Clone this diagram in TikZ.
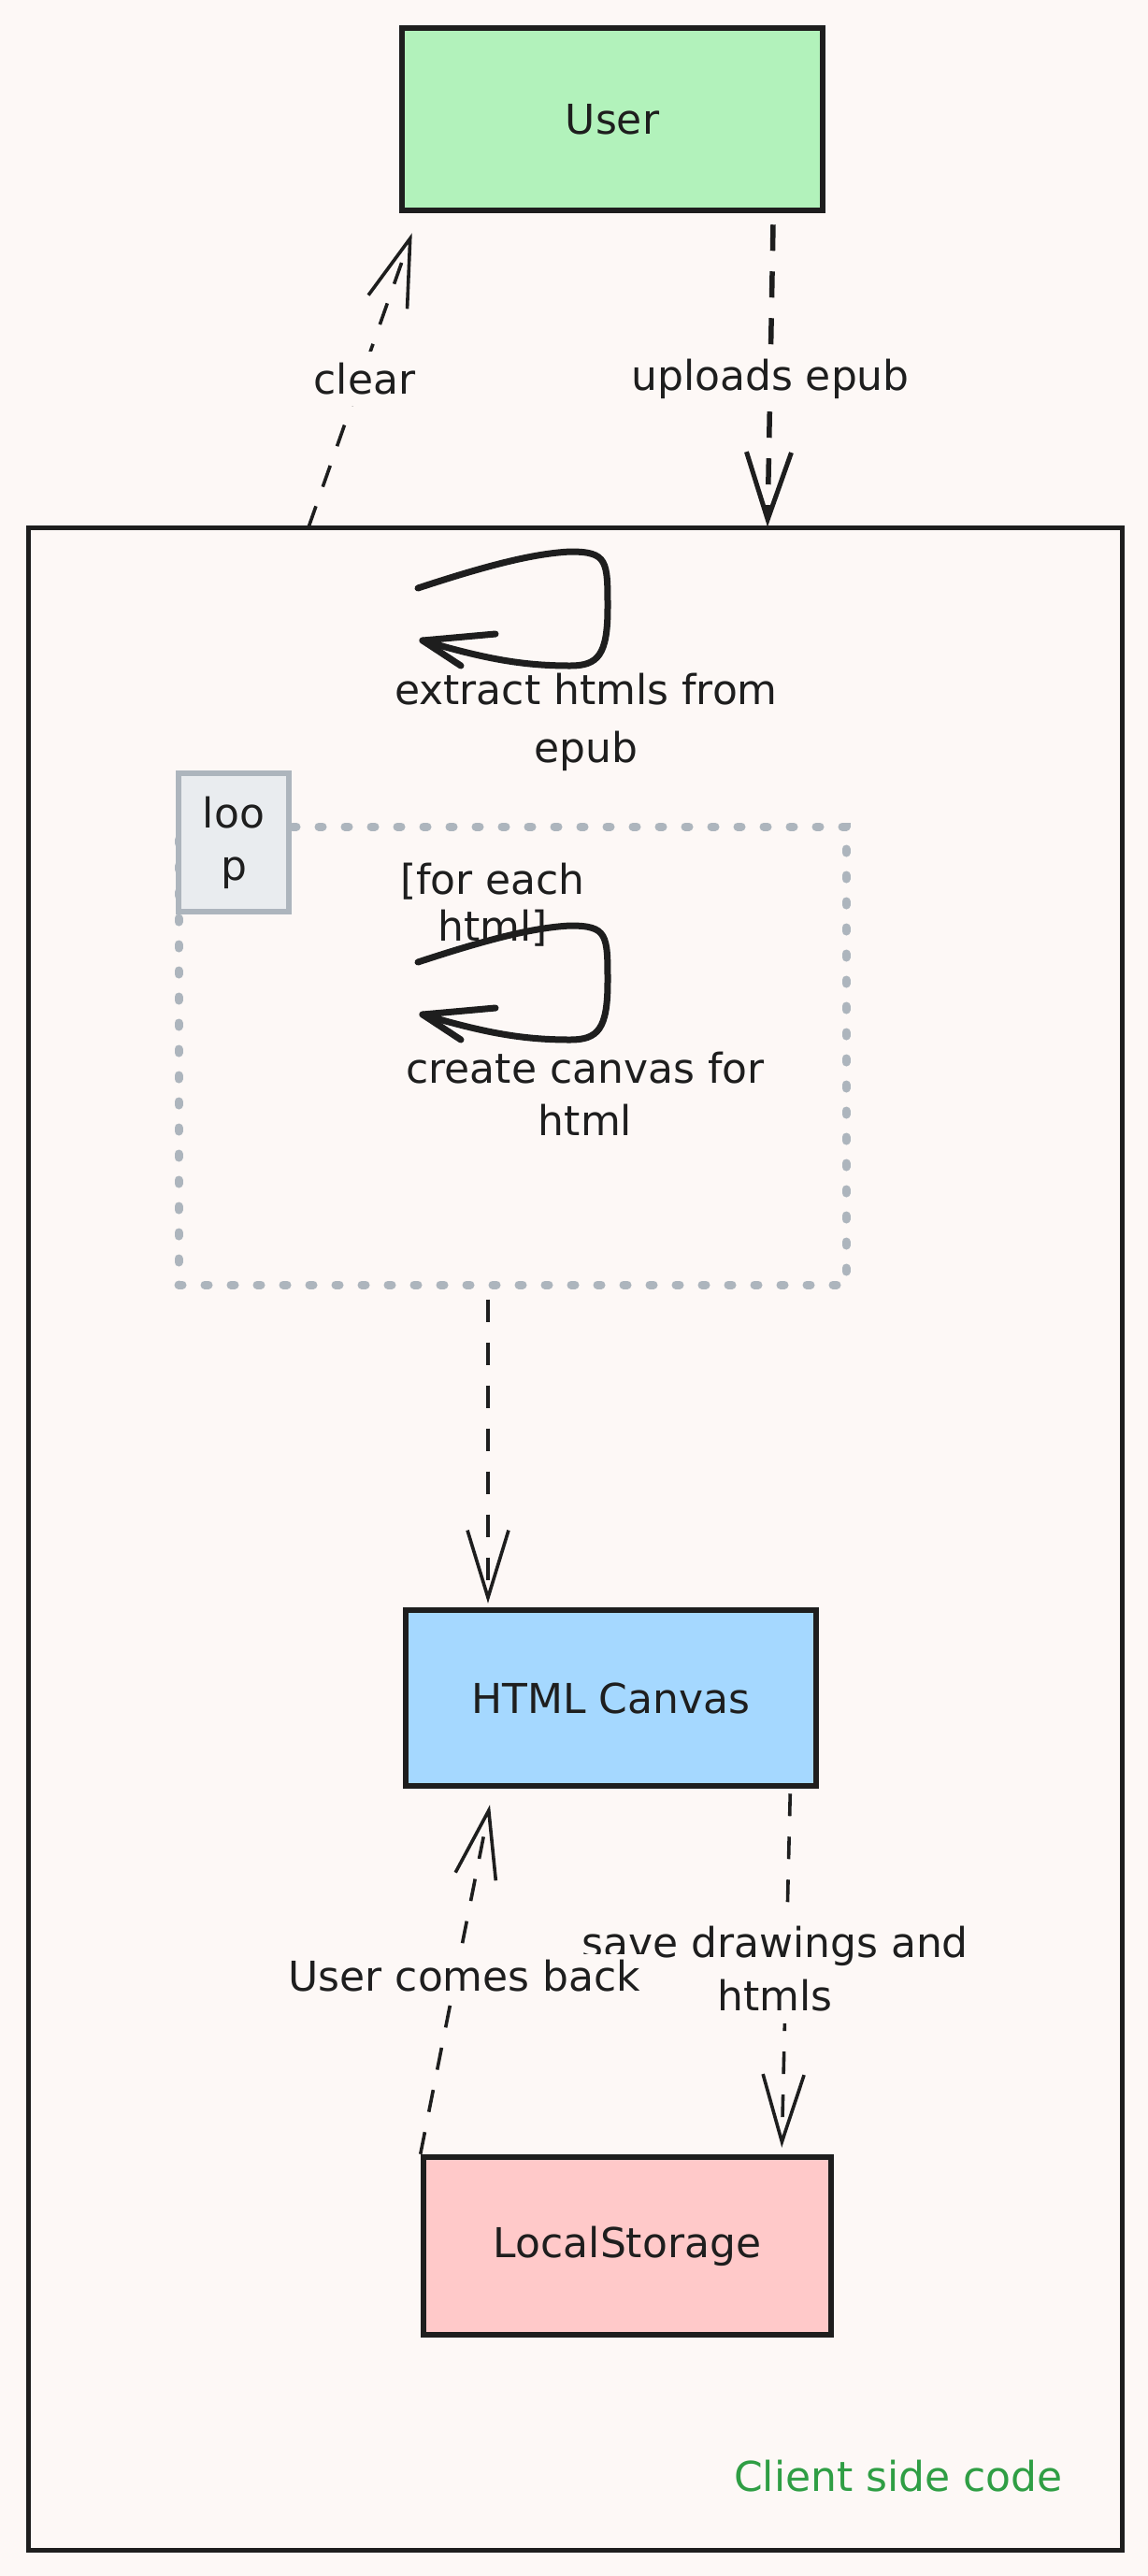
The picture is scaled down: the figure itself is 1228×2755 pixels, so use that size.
\documentclass[tikz,border=0pt]{standalone}
\usepackage{fontspec}
\setmainfont{DejaVu Sans}
\usetikzlibrary{arrows.meta,calc}
\definecolor{bg}{HTML}{FDF8F6}
\definecolor{ink}{HTML}{1E1E1E}
\definecolor{userfill}{HTML}{B2F2BB}
\definecolor{canvasfill}{HTML}{A5D8FF}
\definecolor{lsfill}{HTML}{FFC9C9}
\definecolor{loopgray}{HTML}{ADB5BD}
\definecolor{loopfill}{HTML}{E9ECEF}
\definecolor{codegreen}{HTML}{2F9E44}
\tikzset{
  every node/.style={font=\fontsize{44}{58}\selectfont, text=ink},
  box/.style={draw=ink, line width=6.5pt, inner sep=0pt},
  lbl/.style={fill=bg, inner sep=12pt, align=center},
  plain/.style={inner sep=0pt, align=center},
  thinarrow/.style={draw=ink, line width=3.6pt, dash pattern=on 24pt off 22pt,
    -{Straight Barb[length=72pt,width=44pt,line width=3.6pt]}},
  thickarrow/.style={draw=ink, line width=5.5pt, dash pattern=on 28pt off 22pt,
    -{Straight Barb[length=72pt,width=48pt,line width=5pt]}},
  loopline/.style={draw=ink, line width=7pt, line cap=round, line join=round},
}
\begin{document}
\begin{tikzpicture}[x=1pt,y=-1pt]
\fill[bg] (0,0) rectangle (1228,2755);
\useasboundingbox (0,0) rectangle (1228,2755);

% container
\node[draw=ink, line width=5pt, minimum width=1170pt, minimum height=2163pt, inner sep=0pt] (client) at (615,1645.5) {};
\node[plain, text=codegreen] (clientlbl) at (961,2648) {Client side code};

% loop frame
\node[draw=loopgray, line width=9pt, line cap=round, dash pattern=on 4pt off 24pt,
      minimum width=714pt, minimum height=490pt, inner sep=0pt] (loopframe) at (548,1129) {};
\node[draw=loopgray, fill=loopfill, line width=6pt, minimum width=118pt, minimum height=148pt,
      inner sep=0pt, align=center, font=\fontsize{44}{56}\selectfont] (looptag) at (250,901) {loo\\p};

% boxes
\node[box, fill=userfill, minimum width=450pt, minimum height=195pt] (user) at (655,127.5) {User};
\node[box, fill=canvasfill, minimum width=439pt, minimum height=188pt] (htmlc) at (653.5,1816) {HTML Canvas};
\node[box, fill=lsfill, minimum width=436pt, minimum height=190pt] (ls) at (671,2402) {LocalStorage};

% self loop 1
\node[plain, font=\fontsize{44}{62}\selectfont] (extract) at (627,772) {extract htmls from\\epub};
\coordinate (l1s) at (447,629);
\coordinate (l1t) at (452,685);
\draw[loopline] (l1s) .. controls (520,605) and (570,592) .. (610,590)
  .. controls (650,590) and (650,600) .. (650,650)
  .. controls (650,700) and (640,712) .. (610,712)
  .. controls (560,712) and (520,705) .. (l1t);
\draw[loopline] (530,678) -- (l1t) -- (493,712);

% self loop 2
\node[plain, font=\fontsize{44}{50}\selectfont] (foreach) at (527,968) {[for each\\html]};
\node[plain, font=\fontsize{44}{56}\selectfont] (create) at (626,1170) {create canvas for\\html};
\coordinate (l2s) at (447,1029);
\coordinate (l2t) at (452,1085);
\draw[loopline] (l2s) .. controls (520,1005) and (570,992) .. (610,990)
  .. controls (650,990) and (650,1000) .. (650,1050)
  .. controls (650,1100) and (640,1112) .. (610,1112)
  .. controls (560,1112) and (520,1105) .. (l2t);
\draw[loopline] (530,1078) -- (l2t) -- (493,1112);

% connectors
\coordinate (clearS) at (330,564);
\draw[thinarrow] (clearS) -- ([xshift=14pt,yshift=-21pt]user.south west);
\draw[thickarrow] ([xshift=172pt,yshift=-12pt]user.south) -- ([xshift=206pt,yshift=-2pt]client.north);
\draw[thinarrow] ([xshift=-26pt,yshift=-11pt]loopframe.south) -- ([xshift=-131.5pt,yshift=4pt]htmlc.north);
\draw[thinarrow] (ls.north west) -- ([xshift=-129.5pt,yshift=-17pt]htmlc.south);
\draw[thinarrow] ([xshift=-31pt,yshift=-5pt]htmlc.south east) -- ([xshift=-56pt,yshift=7pt]ls.north east);

% connector labels
\node[lbl] (clearlbl) at (390,405) {clear};
\node[lbl] (uplbl) at (824,405) {uploads epub};
\node[lbl, font=\fontsize{44}{57}\selectfont] (savelbl) at (829,2106) {save drawings and\\htmls};
\node[lbl, inner sep=6pt] (backlbl) at (497,2113) {User comes back};
\end{tikzpicture}
\end{document}
